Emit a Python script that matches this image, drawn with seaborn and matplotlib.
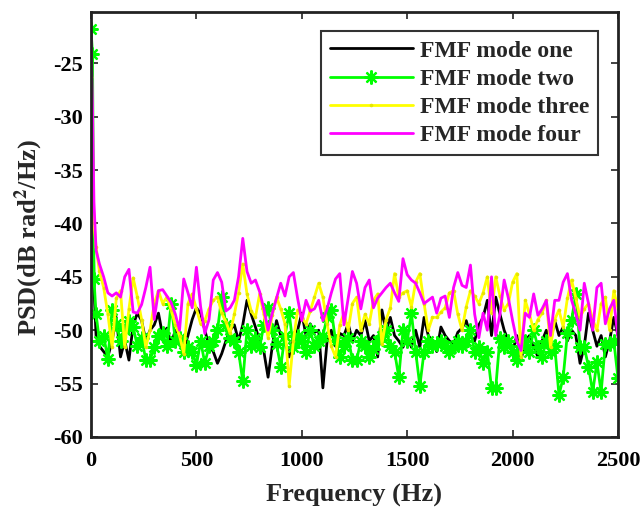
import numpy as np
import pandas as pd
import matplotlib
matplotlib.use("Agg")
import matplotlib.pyplot as plt
import seaborn as sns

# ---------------- data ----------------
freq_head = [0, 7, 14, 24, 40]
freq_body = list(range(60, 2501, 20))
freq = freq_head + freq_body

mode_one = [
    -23.5, -32.0, -46.0, -50.5, -51.5,
    -52.0, -52.5, -51.0, -48.8, -52.5, -51.0, -52.8, -49.5, -48.4, -49.1,
    -51.0, -50.0, -49.5, -48.4, -50.5, -49.8, -51.3, -50.0, -51.3, -51.8,
    -50.5, -49.0, -47.9, -48.4, -50.0, -51.5, -52.0, -53.1, -52.2, -51.0,
    -50.0, -49.5, -51.0, -49.5, -47.2, -48.5, -49.7, -51.0, -52.0, -54.4,
    -51.5, -49.1, -50.5, -51.0, -52.5, -50.5, -50.0, -48.4, -50.5, -49.4,
    -50.2, -50.0, -55.4, -51.0, -50.0, -51.5, -50.3, -50.5, -49.4, -51.0,
    -50.0, -50.5, -49.1, -51.0, -50.5, -52.5, -48.1, -50.0, -48.8, -50.5,
    -51.0, -51.6, -50.5, -51.6, -50.0, -51.6, -48.8, -50.5, -51.0, -52.0,
    -49.7, -50.5, -51.0, -51.3, -50.2, -49.8, -49.1, -50.5, -51.0, -49.5,
    -48.8, -47.2, -50.5, -46.9, -48.5, -50.0, -51.0, -52.0, -50.5, -52.8,
    -51.0, -50.5, -51.5, -52.5, -51.0, -50.0, -51.0, -49.1, -50.5, -49.7,
    -51.0, -50.0, -50.5, -53.1, -51.5, -48.4, -50.0, -51.5, -50.5, -52.5,
    -51.0, -48.8, -50.5,
]

mode_two = [
    -21.8, -24.1, -45.2, -48.5, -51.0,
    -50.5, -52.7, -48.1, -49.4, -51.0, -50.0, -49.1, -49.7, -51.5, -50.7,
    -52.8, -52.8, -51.6, -50.5, -50.3, -51.5, -47.5, -51.0, -50.7, -52.0,
    -51.6, -52.0, -53.3, -51.0, -53.1, -51.5, -51.0, -50.0, -46.9, -49.5,
    -50.7, -51.0, -52.0, -54.8, -50.0, -51.5, -50.7, -51.6, -49.5, -47.9,
    -50.0, -51.3, -53.4, -50.5, -48.4, -51.6, -50.5, -51.0, -52.0, -50.0,
    -51.5, -51.0, -50.5, -48.8, -48.1, -51.0, -52.5, -51.5, -50.7, -52.8,
    -52.8, -51.0, -51.5, -52.5, -51.8, -51.0, -50.5, -50.0, -51.5, -52.0,
    -54.4, -50.0, -51.0, -48.4, -52.0, -55.2, -52.0, -51.0, -51.5, -51.3,
    -51.0, -51.5, -52.0, -51.6, -51.0, -51.5, -51.0, -50.0, -52.0, -51.6,
    -53.1, -52.0, -55.4, -55.4, -50.7, -51.6, -51.0, -52.0, -52.8, -51.5,
    -51.0, -52.0, -50.0, -51.6, -52.5, -51.0, -52.0, -51.5, -56.1, -54.4,
    -50.3, -49.0, -46.6, -51.6, -51.6, -53.4, -55.8, -53.0, -55.8, -51.3,
    -51.3, -51.0, -54.5,
]

mode_three = [
    -26.3, -34.0, -40.0, -42.2, -44.5,
    -46.0, -48.5, -51.6, -47.0, -46.3, -51.6, -48.0, -45.1, -46.9, -49.0,
    -51.6, -50.0, -47.5, -46.3, -47.5, -46.9, -48.1, -49.5, -50.5, -52.2,
    -47.5, -46.6, -48.0, -49.4, -49.1, -48.0, -47.2, -46.9, -48.4, -49.2,
    -50.3, -48.5, -46.5, -43.8, -46.6, -48.2, -48.8, -46.6, -48.5, -50.7,
    -48.6, -46.9, -48.0, -49.4, -55.2, -51.0, -48.1, -48.8, -49.4, -48.2,
    -46.9, -45.6, -46.9, -49.4, -51.5, -52.5, -49.5, -48.4, -50.0, -47.5,
    -46.9, -50.0, -48.5, -49.4, -47.2, -46.6, -51.3, -49.0, -47.9, -44.7,
    -46.9, -46.5, -46.3, -47.8, -45.5, -44.7, -47.5, -50.0, -48.8, -48.8,
    -48.3, -47.9, -46.5, -46.3, -48.5, -50.0, -47.8, -46.3, -46.8, -47.5,
    -46.5, -45.0, -48.4, -45.0, -46.8, -48.1, -47.5, -45.5, -44.7, -52.5,
    -47.2, -48.5, -50.0, -49.0, -48.4, -47.2, -51.6, -49.0, -48.1, -49.7,
    -47.0, -45.3, -47.0, -48.8, -48.0, -47.5, -49.0, -50.0, -47.5, -46.9,
    -50.0, -46.3, -48.0,
]

mode_four = [
    -22.1, -29.0, -38.0, -42.5, -43.8,
    -45.0, -46.5, -46.8, -46.5, -46.9, -45.0, -44.3, -48.3, -48.4, -47.6,
    -46.0, -44.1, -49.0, -46.3, -46.2, -46.8, -47.4, -48.5, -50.0, -45.2,
    -46.5, -47.9, -44.1, -47.8, -50.3, -49.0, -45.3, -44.6, -45.5, -48.2,
    -47.9, -47.2, -45.0, -41.4, -44.5, -45.6, -45.3, -46.4, -48.0, -50.0,
    -48.4, -47.0, -45.6, -46.8, -45.0, -44.6, -47.0, -49.1, -47.2, -48.2,
    -48.0, -47.2, -49.1, -48.0, -46.5, -45.2, -44.7, -49.5, -47.0, -44.5,
    -45.6, -48.0, -46.0, -45.3, -47.9, -47.0, -46.5, -46.0, -45.6, -46.5,
    -47.3, -43.3, -44.8, -45.3, -45.6, -46.5, -47.5, -47.2, -46.9, -48.4,
    -47.0, -46.8, -48.8, -46.0, -44.6, -45.8, -46.0, -43.9, -48.5, -50.7,
    -48.4, -50.0, -45.0, -50.5, -48.5, -45.3, -47.0, -49.1, -51.0, -51.9,
    -48.4, -48.8, -46.6, -48.6, -48.0, -47.2, -50.5, -47.2, -47.2, -45.5,
    -44.7, -47.2, -48.5, -50.0, -45.6, -47.5, -50.0, -46.0, -45.6, -49.4,
    -48.0, -47.2, -50.7,
]

labels = ["FMF mode one", "FMF mode two", "FMF mode three", "FMF mode four"]
colors = ["#000000", "#00ff00", "#ffff00", "#ff00ff"]
xticks = [0, 500, 1000, 1500, 2000, 2500]
yticks = [-60, -55, -50, -45, -40, -35, -30, -25]

# ---------------- styling ----------------
sns.set_theme(style="white")
plt.rcParams["font.family"] = ["Liberation Serif", "DejaVu Serif"]
plt.rcParams["font.weight"] = "bold"
plt.rcParams["axes.unicode_minus"] = False
plt.rcParams["mathtext.fontset"] = "stix"

fig = plt.figure(figsize=(6.44, 5.16), dpi=100)
ax = fig.add_axes([91 / 644, 1 - 437 / 516, (618 - 91) / 644, (437 - 12) / 516])

series = [mode_one, mode_two, mode_three, mode_four]
styles = [
    dict(marker=None),
    dict(marker=(8, 2, 0), markersize=10, markeredgewidth=1.6,
         markeredgecolor="#00ff00"),
    dict(marker="o", markersize=2.6, markeredgewidth=0,
         markerfacecolor="#e6e600"),
    dict(marker=None),
]
for vals, lab, col, st in zip(series, labels, colors, styles):
    df = pd.DataFrame({"Frequency": freq, "PSD": vals})
    sns.lineplot(data=df, x="Frequency", y="PSD", ax=ax, color=col,
                 linewidth=2.0, label=lab, estimator=None, sort=False, **st)

ax.set_xlim(0, 2500)
ax.set_ylim(-60, -20.2)
ax.set_xticks(xticks)
ax.set_yticks(yticks)
ax.set_xticklabels([str(t) for t in xticks], fontsize=16, fontweight="bold")
ax.set_yticklabels([str(t) for t in yticks], fontsize=16, fontweight="bold")
ax.tick_params(axis="both", direction="in", length=5, width=1.2,
               top=True, right=True, bottom=True, left=True, colors="#222222")
ax.tick_params(axis="x", pad=10, labelcolor="black")
ax.tick_params(axis="y", pad=6, labelcolor="black")
for s in ax.spines.values():
    s.set_linewidth(2.0)
    s.set_color("#222222")

ax.set_xlabel("Frequency (Hz)", fontsize=19, fontweight="bold")
ax.xaxis.set_label_coords(0.5, -0.11)
ax.set_ylabel(r"PSD(dB rad$^{\mathbf{2}}$/Hz)", fontsize=19, fontweight="bold")
ax.yaxis.set_label_coords(-0.088, 0.47)

leg = ax.legend(loc="upper right", bbox_to_anchor=(0.962, 0.955),
                borderaxespad=0, frameon=True, fancybox=False,
                handlelength=3.5, handletextpad=0.3, labelspacing=0.28,
                borderpad=0.38, prop={"size": 17, "weight": "bold"})
leg.get_frame().set_edgecolor("black")
leg.get_frame().set_linewidth(1.5)

fig.savefig("out.png", dpi=100)
